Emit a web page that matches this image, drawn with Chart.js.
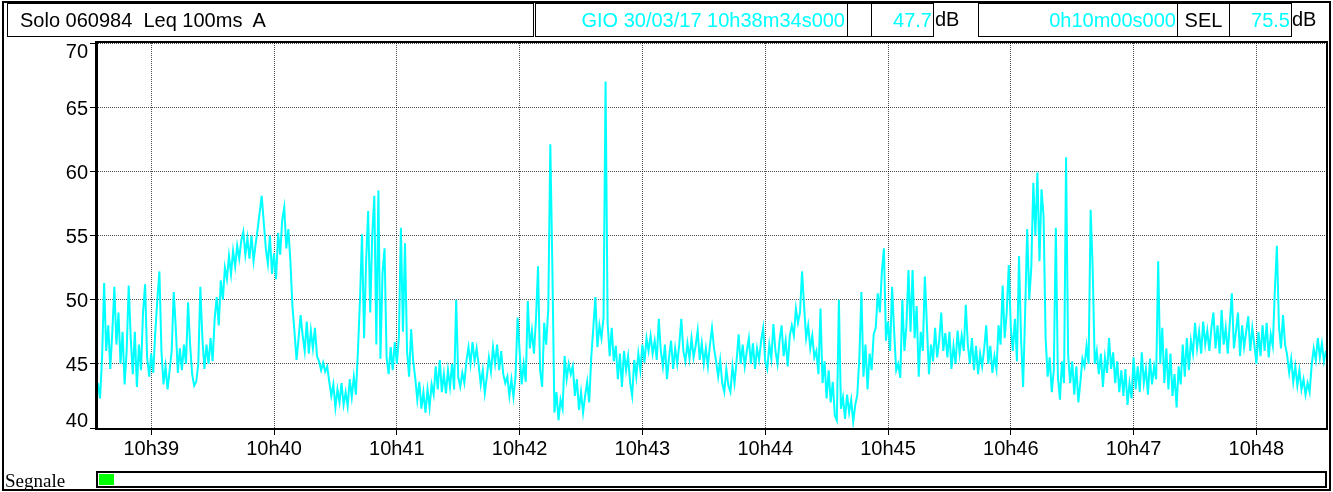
<!DOCTYPE html>
<html>
<head>
<meta charset="utf-8">
<script src="https://cdn.jsdelivr.net/npm/chart.js@4.4.1/dist/chart.umd.min.js"></script>
<style>
html,body{margin:0;padding:0;background:#fff;}
#page{position:relative;width:1333px;height:492px;overflow:hidden;font-family:"Liberation Sans",Arial,sans-serif;}
#c{position:absolute;left:0;top:0;}
.frame{position:absolute;left:2px;top:1px;width:1329px;height:490px;box-sizing:border-box;border:2px solid #000;pointer-events:none;}
.box{position:absolute;box-sizing:border-box;border:1px solid #000;top:3px;height:34px;white-space:pre;font-size:20px;line-height:32px;color:#000;background:#fff;}
.cy{color:#00FFFF;text-align:right;}
.txt{position:absolute;top:3px;height:34px;line-height:32px;font-size:20px;white-space:pre;color:#000;}
#seg{position:absolute;left:5px;top:470px;font-family:"Liberation Serif","Times New Roman",serif;font-size:19px;line-height:22px;color:#000;}
#bar{position:absolute;left:96px;top:471px;width:1231px;height:17px;box-sizing:border-box;border:2px solid #000;background:#fff;}
#bar div{position:absolute;left:1px;top:1px;width:15px;height:11px;background:#00FF00;}
</style>
</head>
<body>
<div id="page">
  <canvas id="c" width="1333" height="492"></canvas>
  <div class="frame"></div>
  <div class="box" id="title" style="left:7px;width:527px;padding-left:12px;"></div>
  <div class="box cy" id="stamp" style="left:535px;width:313px;padding-right:2px;"></div>
  <div class="box" style="left:847px;width:25px;"></div>
  <div class="box cy" id="leq" style="left:871px;width:63px;padding-right:1px;"></div>
  <div class="txt" style="left:935px;">dB</div>
  <div class="box cy" id="dur" style="left:978px;width:200px;padding-right:1px;"></div>
  <div class="box" style="left:1177px;width:53px;text-align:center;">SEL</div>
  <div class="box cy" id="sel" style="left:1229px;width:63px;padding-right:1px;"></div>
  <div class="txt" style="left:1292px;">dB</div>
  <div id="seg">Segnale</div>
  <div id="bar"><div></div></div>
</div>
<script>
// ---- header texts ----
const titleText = 'Solo 060984  Leq 100ms  A';
const startStamp = 'GIO 30/03/17 10h38m34s000';
const leqTotal = '47.7';
const durationText = '0h10m00s000';
const selValue = '75.5';

// ---- axis ----
const startSecondOfMinute = 34;          // record starts at 10h38m34s
const sampleSec = 1;                     // one reading per second
const minuteLabels = ['10h39','10h40','10h41','10h42','10h43','10h44','10h45','10h46','10h47','10h48'];
const yTicks = [40,45,50,55,60,65,70];

// ---- Leq (dB) values, one per second from 10h38m34s ----
const leqDb = [
43.5,42.3,45.5,51.3,46,48,44.6,47.5,51,46.5,
49,45,47.5,43.4,46,51.1,47,44.2,47.5,43.2,
46.5,44.5,49,51.2,45.5,44,45.8,44.3,47.5,50,
52.2,46,43.4,44.8,43,44.5,46,50.6,47.8,44.3,
46.2,44.5,46.5,45,49.8,46.5,44.2,43.3,43.6,45,
51,47,44.6,46.5,45,47,45.2,48.5,50.2,48,
51.5,50,52.5,51.6,53.4,52,53.8,52.6,54.2,53.2,
54.6,55.3,53.5,54.8,53.2,55,53,54.3,55.5,56.8,
58.1,56,54,52.8,55,52,53.6,51.6,55.2,53.5,
56.2,57.2,54,55.5,53,49.5,47.5,45.3,47,48.8,
47.2,46,48.3,45.8,47.6,46.2,47.8,45.6,45.2,44.5,
45.1,44.4,44.8,43.6,42.5,43.4,41.6,43,42,43.5,
41.8,42.8,41.7,43.8,42.4,44,42.6,46,50,55.1,
47,53,56.9,49,55,58.1,46.5,58.5,45.4,52,
54,45.5,44.2,46.3,44.5,46.7,45,47,55.6,47.5,
54.4,46,44,47.7,45.2,43.9,42.2,43.6,41.5,42.8,
41.2,43,41.6,43.4,42.6,44.8,43,45.3,42.8,44.2,
42.7,44.5,43.2,45,43,50,44,43.2,44.3,43.5,
45.2,46.3,45,46.7,45.2,46.2,44.9,43.4,44.5,42.7,
44,45.5,44.4,46.3,45,46.5,44.5,46,44.2,43.5,
44,42.5,43.8,42.4,44,48.6,46,43.4,45,43.6,
49.9,46.2,47.6,45.8,48.5,52.6,44.5,43.2,48.2,46.5,
49.3,62.1,52.5,41.2,42.8,40.6,42.2,41.5,45.6,43.8,
45,44.2,44.8,42.5,43.8,41.4,42.8,41.2,42.5,43.6,
42,45.5,47.8,50.2,46.3,48,47,48.6,67,48.2,
45.6,47.8,45.2,46.4,43.8,45.8,43.2,46,44.5,45.6,
43.5,42.5,45.3,44,45.8,44.5,46.5,45.1,47,46,
47.2,45.8,46.8,45.3,48.5,46,44.8,46.5,43.8,45.5,
46.8,44.6,46.2,45,46.5,48.5,46,45.2,46.6,45.4,
47,45.5,46.4,47.6,45.3,46.6,45,46.2,44.8,46.5,
47.8,46.2,45.2,44,45.3,43.5,42.8,44.6,43.3,42.8,
44.8,43.5,45.2,47.3,45,46.5,44.8,46,47,45,
46.6,44.6,46.2,45.3,46.8,47.8,45.2,44.6,46.5,45.4,
48.1,46,45,46.8,48,45.6,46.8,44.8,47.2,48,
47.2,49.3,48.2,49,52.2,49.5,47,48,46.2,47.2,
45.5,46,44.2,49.3,43.5,45.2,42.3,44.5,42,43.6,
41,40.6,50,41.5,42.4,40.7,42.6,41.2,42.2,40.5,
41.8,42.6,45.5,50.6,44,46.5,43,45.8,44.5,47.3,
47.8,50.5,49,52.2,54,46.8,48.3,46,51,47.5,
44.5,45,43.9,50,46,48,52.3,47.5,52.3,47,
49.5,44,47.5,46,51.8,48,44.2,46.5,45.2,47.8,
45.5,46.8,49,46,47.4,45.5,47.5,44.6,46.4,45,
47.6,45.8,47.2,46,49.6,46.5,45,47,44.5,46.4,
44.2,45.8,44.8,46.2,48,45,46.4,44.3,45.6,44.6,
48,46.5,51.1,47,49,52.7,47.8,46,48.5,45.2,
53.4,47,43.2,49,55.5,50,52.5,59.1,55,59.9,
53,58.6,56.5,47,44,45.5,42.8,44.5,55.6,44,
42.2,45.2,43.5,61.1,45.7,43.5,45.2,42.6,44.8,42,
43.6,45.4,44.8,46.4,45,57,52.4,45,46,44.2,
45.8,43.2,45.5,44.3,47,44.6,45.9,43.5,45.2,42.8,
44.5,42.5,44.6,41.8,43.5,42.3,45.5,43,44.8,42.8,
45.9,43.5,44.6,42.6,45.4,43.4,44.8,43.8,53,45,
47.8,43.5,46.2,43,45.8,42.5,44.2,41.6,44.8,43.4,
46.5,44,47,44.5,46.8,45.8,48.2,46.2,47.5,45.8,
48.3,46.5,47.6,46,47.8,49,46.2,48,45.8,49.2,
46.5,47.8,45.8,48.2,50.5,46.2,47.5,49,45.6,48,
46.3,47.5,48.7,46,47.8,46.5,45,47.5,45.6,48,
46,48.2,45.5,47.3,46.4,50.7,54.2,48,46.2,48.8,
46.5,45.7,44.3,45.4,43.6,44.8,43.3,44.5,43,43.8,
42.6,43.5,42.8,44.9,46.2,45.3,47,45.5,46.6,45.2,
46
];

document.getElementById('title').textContent = titleText;
document.getElementById('stamp').textContent = startStamp;
document.getElementById('leq').textContent = leqTotal;
document.getElementById('dur').textContent = durationText;
document.getElementById('sel').textContent = selValue;

const firstTick = (60 - startSecondOfMinute) % 60;
const totalSec = (leqDb.length - 1) * sampleSec;
const FONT = '"Liberation Sans", Arial, sans-serif';

const frameAndYLabels = {
  id: 'frameAndYLabels',
  afterDraw(chart) {
    const {ctx, chartArea: a, scales: {y}} = chart;
    ctx.save();
    ctx.font = '20px ' + FONT;
    ctx.fillStyle = '#000';
    ctx.textAlign = 'right';
    ctx.textBaseline = 'middle';
    yTicks.forEach(v => {
      let py = y.getPixelForValue(v) + 2;
      py = Math.min(Math.max(py, a.top + 9), a.bottom - 7);
      ctx.fillText(String(v), a.left - 10, py);
    });
    ctx.strokeStyle = '#000';
    ctx.lineWidth = 2;
    ctx.strokeRect(a.left - 1, a.top - 1, a.right - a.left + 2, a.bottom - a.top + 2);
    ctx.fillRect(a.left - 3, a.top - 2, 2, a.bottom - a.top + 4);
    ctx.restore();
  }
};

new Chart(document.getElementById('c'), {
  type: 'line',
  data: {
    datasets: [{
      data: leqDb.map((v, i) => ({x: i * sampleSec, y: v})),
      borderColor: '#00FFFF',
      borderWidth: 2,
      pointRadius: 0,
      tension: 0,
      fill: false
    }]
  },
  options: {
    animation: false,
    responsive: false,
    maintainAspectRatio: false,
    layout: {padding: {top: 43, right: 7, bottom: 0, left: 0}},
    plugins: {legend: {display: false}, tooltip: {enabled: false}},
    scales: {
      x: {
        type: 'linear', min: 0, max: totalSec,
        afterBuildTicks: s => { s.ticks = minuteLabels.map((l, i) => ({value: firstTick + 60 * i})); },
        afterFit: s => { s.height = 64; },
        ticks: {
          callback: (v, i) => minuteLabels[i],
          font: {size: 20, family: FONT}, color: '#000', padding: 2,
          maxRotation: 0, autoSkip: false
        },
        grid: {color: 'rgba(0,0,0,0.7)', lineWidth: 1, tickLength: 7, tickColor: '#000', drawTicks: true},
        border: {display: false, dash: [1, 1]}
      },
      y: {
        min: 40, max: 70,
        afterBuildTicks: s => { s.ticks = yTicks.map(v => ({value: v})); },
        afterFit: s => { s.width = 98; },
        ticks: {display: false},
        grid: {color: 'rgba(0,0,0,0.7)', lineWidth: 1, tickLength: 8, tickColor: '#000', drawTicks: true},
        border: {display: false, dash: [1, 1]}
      }
    }
  },
  plugins: [frameAndYLabels]
});
</script>
</body>
</html>
